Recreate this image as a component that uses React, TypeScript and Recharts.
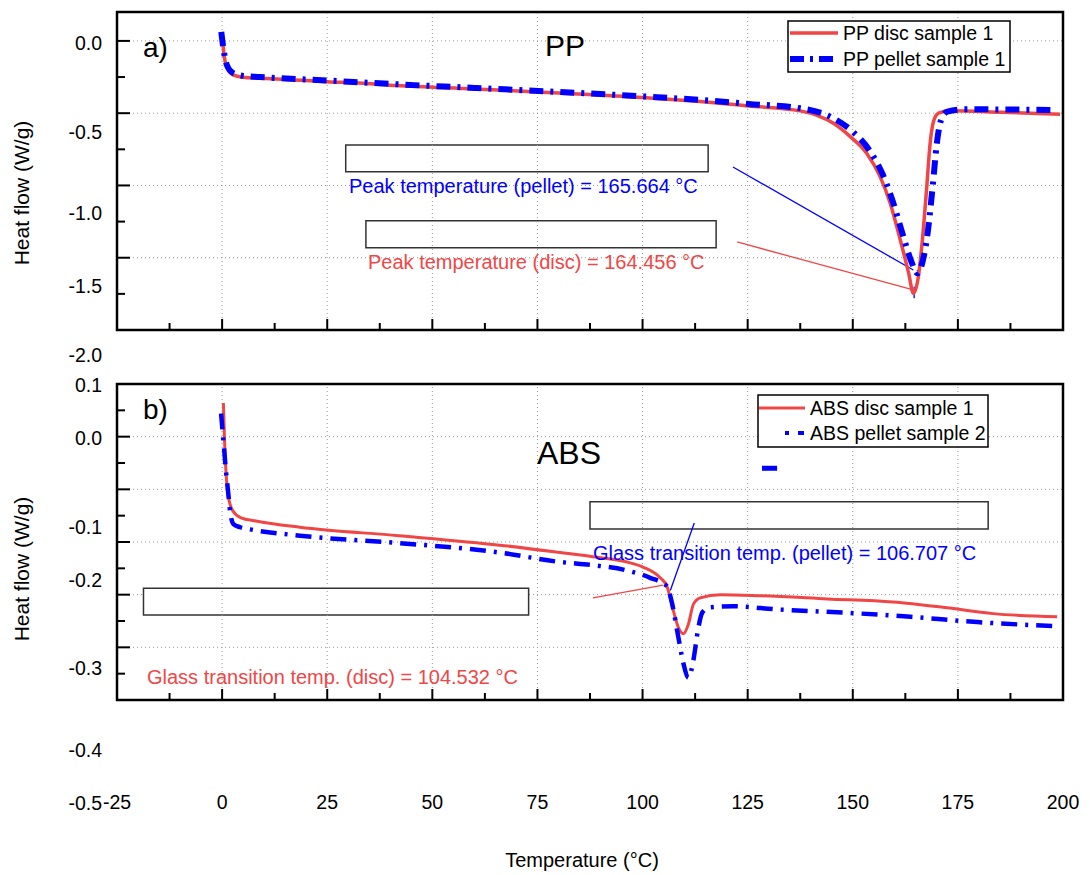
import React from "react"
import {
  ComposedChart,
  Line,
  XAxis,
  YAxis,
  CartesianGrid,
  ReferenceArea,
  ReferenceLine,
} from "recharts"

const FONT = "'Liberation Sans', Arial, Helvetica, sans-serif"
const RED = "#f04646"
const BLUE = "#0000ff"
const GRID = "#999"

// shared temperature axis
const X_DOMAIN = [-25, 200]
const X_MAJOR = [-25, 0, 25, 50, 75, 100, 125, 150, 175, 200]
const X_MINOR = [-12.5, 12.5, 37.5, 62.5, 87.5, 112.5, 137.5, 162.5, 187.5]
const X_GRID = [0, 25, 50, 75, 100, 125, 150, 175]

// a) PP panel
const PP_DOMAIN = [-2.0, 0.2]
const PP_MAJOR = [-2, -1.5, -1, -0.5, 0]
const PP_MINOR = [-1.75, -1.25, -0.75, -0.25]
const PP_TICK_LABELS = ["0.0", "-0.5", "-1.0", "-1.5", "-2.0"]

const PP_DISC_T = [0, 0.4, 1.1, 2.6, 5, 9, 17, 25, 33.5, 41.5, 60, 80, 100, 113.7, 125.2, 137.5, 141.5, 145.4, 149.4, 153.3, 156.5, 158.9, 161.3, 163.3, 164.4, 165.6, 166.7, 167.6, 168.4, 169.2, 170.4, 173.2, 185.1, 199.3]
const PP_DISC_HF = [0.055, -0.083, -0.178, -0.235, -0.251, -0.258, -0.27, -0.282, -0.293, -0.309, -0.332, -0.36, -0.391, -0.42, -0.45, -0.484, -0.515, -0.57, -0.662, -0.777, -0.939, -1.123, -1.377, -1.608, -1.746, -1.631, -1.331, -1.008, -0.708, -0.558, -0.5, -0.484, -0.493, -0.507]

const PP_PELLET_T = [-0.2, 0.4, 1.1, 2.6, 5, 9, 25, 41.5, 60, 80, 100, 113.7, 125.2, 137.5, 145.4, 150, 153.9, 157, 159.4, 161.8, 163.8, 165.4, 166.5, 167.8, 169, 170, 171, 172.5, 176.9, 198.3]
const PP_PELLET_HF = [0.062, -0.07, -0.165, -0.222, -0.242, -0.25, -0.274, -0.3, -0.325, -0.353, -0.384, -0.408, -0.436, -0.466, -0.535, -0.628, -0.754, -0.916, -1.1, -1.331, -1.516, -1.608, -1.539, -1.331, -1.008, -0.708, -0.547, -0.489, -0.473, -0.478]

// b) ABS panel
const ABS_DOMAIN = [-0.25, 0.05]
const ABS_MAJOR = [-0.25, -0.2, -0.15, -0.1, -0.05, 0, 0.05]
const ABS_MINOR = [-0.225, -0.175, -0.125, -0.075, -0.025, 0.025]
const ABS_TICK_LABELS = ["0.1", "0.0", "-0.1", "-0.2", "-0.3", "-0.4", "-0.5"]

const ABS_DISC_T = [0.3, 0.55, 0.9, 1.5, 2.5, 4.5, 8, 18.5, 42, 66, 80.4, 88.2, 96.3, 100.2, 104.2, 105.8, 107.3, 108.5, 109.7, 110.9, 112.1, 113.7, 118.5, 128, 144, 159.6, 171.5, 183.4, 198.6]
const ABS_DISC_HF = [0.032, 0.0, -0.032, -0.057, -0.07, -0.077, -0.08, -0.086, -0.094, -0.103, -0.11, -0.114, -0.119, -0.124, -0.134, -0.142, -0.165, -0.181, -0.187, -0.178, -0.159, -0.153, -0.15, -0.151, -0.154, -0.157, -0.162, -0.168, -0.171]

const ABS_PELLET_T = [-0.25, 0.5, 0.9, 1.4, 1.9, 2.7, 4.3, 6.7, 18.5, 42, 66, 80.4, 88.2, 96.3, 101.8, 105.8, 107, 108.5, 109.7, 110.9, 112.1, 113.2, 114.2, 116, 121.5, 132, 147.7, 163.7, 179.6, 198.6]
const ABS_PELLET_HF = [0.022, -0.013, -0.032, -0.051, -0.071, -0.083, -0.086, -0.088, -0.094, -0.101, -0.11, -0.119, -0.122, -0.127, -0.134, -0.142, -0.158, -0.19, -0.215, -0.229, -0.212, -0.183, -0.167, -0.162, -0.161, -0.164, -0.167, -0.171, -0.176, -0.18]

// annotation boxes and leader lines, in data units
const PP_BOXES = [
  { x1: 29.4, x2: 115.6, y1: -0.905, y2: -0.72 },
  { x1: 34.2, x2: 117.5, y1: -1.431, y2: -1.244 },
]
const PP_LEADERS = [
  { from: [121.5, -0.872], to: [164.4, -1.585], color: BLUE },
  { from: [122.5, -1.391], to: [164.4, -1.723], color: RED },
  { from: [164.6, -1.7], to: [164.6, -1.78], color: BLUE },
]
const ABS_BOXES = [
  { x1: 87.5, x2: 182.2, y1: -0.0877, y2: -0.0617 },
  { x1: -18.7, x2: 72.9, y1: -0.1693, y2: -0.144 },
]
const ABS_LEADERS = [
  { from: [112.3, -0.082], to: [106.6, -0.146], color: BLUE },
  { from: [88.2, -0.153], to: [104.9, -0.141], color: RED },
]

// text layout (page pixels)
const PP_LABEL_Y = [50, 139, 220, 293, 362]
const ABS_LABEL_Y = [392, 445, 534, 587, 675, 757, 810]

const toPoints = (t: number[], v: number[]) => t.map((x, i) => ({ t: x, v: v[i] }))

const ppDisc = toPoints(PP_DISC_T, PP_DISC_HF)
const ppPellet = toPoints(PP_PELLET_T, PP_PELLET_HF)
const absDisc = toPoints(ABS_DISC_T, ABS_DISC_HF)
const absPellet = toPoints(ABS_PELLET_T, ABS_PELLET_HF)

const tickLine = { stroke: "#000", strokeWidth: 2 }
const noLabel = () => <g />

const axes = (domain: number[], major: number[], minor: number[]) => [
  <XAxis key="x" xAxisId="x" type="number" dataKey="t" domain={X_DOMAIN} ticks={X_MAJOR} interval={0} allowDataOverflow mirror height={1} tick={noLabel} axisLine={false} tickSize={11} tickLine={tickLine} />,
  <XAxis key="xm" xAxisId="xm" type="number" dataKey="t" domain={X_DOMAIN} ticks={X_MINOR} interval={0} allowDataOverflow mirror height={1} tick={noLabel} axisLine={false} tickSize={6} tickLine={tickLine} />,
  <YAxis key="y" yAxisId="y" type="number" domain={domain} ticks={major} interval={0} allowDataOverflow mirror width={1} tick={noLabel} axisLine={false} tickSize={13} tickLine={tickLine} />,
  <YAxis key="ym" yAxisId="ym" type="number" domain={domain} ticks={minor} interval={0} allowDataOverflow mirror width={1} tick={noLabel} axisLine={false} tickSize={7} tickLine={tickLine} />,
  <CartesianGrid key="hgrid" xAxisId="x" yAxisId="y" vertical={false} horizontalValues={major} stroke={GRID} strokeDasharray="1 3" />,
  ...X_GRID.map((v) => (
    <ReferenceLine
      key={"vg" + v}
      xAxisId="x"
      yAxisId="y"
      ifOverflow="visible"
      segment={[{ x: v, y: domain[0] }, { x: v, y: domain[1] }]}
      stroke={GRID}
      strokeWidth={1}
      strokeDasharray="1 3"
    />
  )),
]

const annotations = (boxes: typeof PP_BOXES, leaders: typeof PP_LEADERS) => [
  ...boxes.map((b, i) => (
    <ReferenceArea key={"box" + i} xAxisId="x" yAxisId="y" x1={b.x1} x2={b.x2} y1={b.y1} y2={b.y2} fill="#fff" fillOpacity={1} stroke="#333" strokeWidth={1.5} />
  )),
  ...leaders.map((l, i) => (
    <ReferenceLine key={"lead" + i} xAxisId="x" yAxisId="y" segment={[{ x: l.from[0], y: l.from[1] }, { x: l.to[0], y: l.to[1] }]} stroke={l.color} strokeWidth={1.3} />
  )),
]

const frame = (domain: number[]) => (
  <ReferenceArea xAxisId="x" yAxisId="y" x1={X_DOMAIN[0]} x2={X_DOMAIN[1]} y1={domain[0]} y2={domain[1]} fill="none" stroke="#000" strokeWidth={2.5} ifOverflow="visible" />
)

const txt = { fontFamily: FONT }

export default function App() {
  return (
    <div style={{ position: "absolute", left: 0, top: 0, width: 1090, height: 875, background: "#fff" }}>
      <div style={{ position: "absolute", left: 0, top: 0 }}>
        <ComposedChart width={1090} height={344} margin={{ top: 12, right: 27, bottom: 14, left: 117 }}>
          {axes(PP_DOMAIN, PP_MAJOR, PP_MINOR)}
          {annotations(PP_BOXES, PP_LEADERS)}
          <Line xAxisId="x" yAxisId="y" data={ppDisc} dataKey="v" type="monotone" stroke={RED} strokeWidth={3.5} dot={false} isAnimationActive={false} />
          <Line xAxisId="x" yAxisId="y" data={ppPellet} dataKey="v" type="monotone" stroke={BLUE} strokeWidth={6} strokeDasharray="14 7 3 7" dot={false} isAnimationActive={false} />
          {frame(PP_DOMAIN)}
        </ComposedChart>
      </div>
      <div style={{ position: "absolute", left: 0, top: 370 }}>
        <ComposedChart width={1090} height={500} margin={{ top: 14, right: 27, bottom: 169, left: 117 }}>
          <XAxis
            xAxisId="lab"
            type="number"
            dataKey="t"
            domain={X_DOMAIN}
            ticks={X_MAJOR}
            interval={0}
            allowDataOverflow
            height={1}
            axisLine={false}
            tickLine={false}
            tickSize={0}
            tickMargin={0}
            tick={(p: any) => (
              <text x={p.x} y={p.y} dy={109} textAnchor="middle" fontSize={19.5} fontFamily={FONT} fill="#000">
                {p.payload.value}
              </text>
            )}
          />
          {axes(ABS_DOMAIN, ABS_MAJOR, ABS_MINOR)}
          {annotations(ABS_BOXES, ABS_LEADERS)}
          <ReferenceLine xAxisId="x" yAxisId="y" segment={[{ x: 128.4, y: -0.03 }, { x: 132, y: -0.03 }]} stroke={BLUE} strokeWidth={5} />
          <Line xAxisId="x" yAxisId="y" data={absDisc} dataKey="v" type="monotone" stroke={RED} strokeWidth={3} dot={false} isAnimationActive={false} />
          <Line xAxisId="x" yAxisId="y" data={absPellet} dataKey="v" type="monotone" stroke={BLUE} strokeWidth={4.5} strokeDasharray="16 8 3 8" dot={false} isAnimationActive={false} />
          {frame(ABS_DOMAIN)}
        </ComposedChart>
      </div>
      <svg width={1090} height={875} style={{ position: "absolute", left: 0, top: 0, pointerEvents: "none" }}>
        {PP_TICK_LABELS.map((s, i) => (
          <text key={"pl" + i} x={102} y={PP_LABEL_Y[i]} textAnchor="end" fontSize={19.5} {...txt}>{s}</text>
        ))}
        {ABS_TICK_LABELS.map((s, i) => (
          <text key={"al" + i} x={102} y={ABS_LABEL_Y[i]} textAnchor="end" fontSize={19.5} {...txt}>{s}</text>
        ))}
        <text transform="translate(29,193) rotate(-90)" textAnchor="middle" fontSize={21} {...txt}>Heat flow (W/g)</text>
        <text transform="translate(29,569) rotate(-90)" textAnchor="middle" fontSize={21} {...txt}>Heat flow (W/g)</text>
        <text x={582} y={867} textAnchor="middle" fontSize={20} {...txt}>Temperature (°C)</text>

        <text x={143} y={57} fontSize={28} {...txt}>a)</text>
        <text x={143} y={419} fontSize={28} {...txt}>b)</text>
        <text x={545} y={56} fontSize={30} {...txt}>PP</text>
        <text x={537} y={464} fontSize={32} {...txt}>ABS</text>

        <text x={349} y={193} fontSize={20} fill={BLUE} {...txt}>Peak temperature (pellet) = 165.664 °C</text>
        <text x={368} y={269} fontSize={20} fill={RED} {...txt}>Peak temperature (disc) = 164.456 °C</text>
        <text x={593} y={560} fontSize={20} fill={BLUE} {...txt}>Glass transition temp. (pellet) = 106.707 °C</text>
        <text x={147} y={684} fontSize={20} fill={RED} {...txt}>Glass transition temp. (disc) = 104.532 °C</text>

        <rect x={788} y={21} width={222} height={51} fill="#fff" stroke="#000" strokeWidth={1.5} />
        <line x1={790} y1={33} x2={838} y2={33} stroke={RED} strokeWidth={3.5} />
        <line x1={790} y1={59} x2={838} y2={59} stroke={BLUE} strokeWidth={6} strokeDasharray="14 6 3 6" />
        <text x={843} y={40} fontSize={19.5} {...txt}>PP disc sample 1</text>
        <text x={843} y={66} fontSize={19.5} {...txt}>PP pellet sample 1</text>

        <rect x={758} y={395} width={230} height={52} fill="#fff" stroke="#000" strokeWidth={1.5} />
        <line x1={759} y1={408} x2={805} y2={408} stroke={RED} strokeWidth={3} />
        <line x1={785} y1={433} x2={804} y2={433} stroke={BLUE} strokeWidth={4} strokeDasharray="4 9 6" />
        <text x={810} y={415} fontSize={19.5} {...txt}>ABS disc sample 1</text>
        <text x={810} y={440} fontSize={19.5} {...txt}>ABS pellet sample 2</text>
      </svg>
    </div>
  )
}
